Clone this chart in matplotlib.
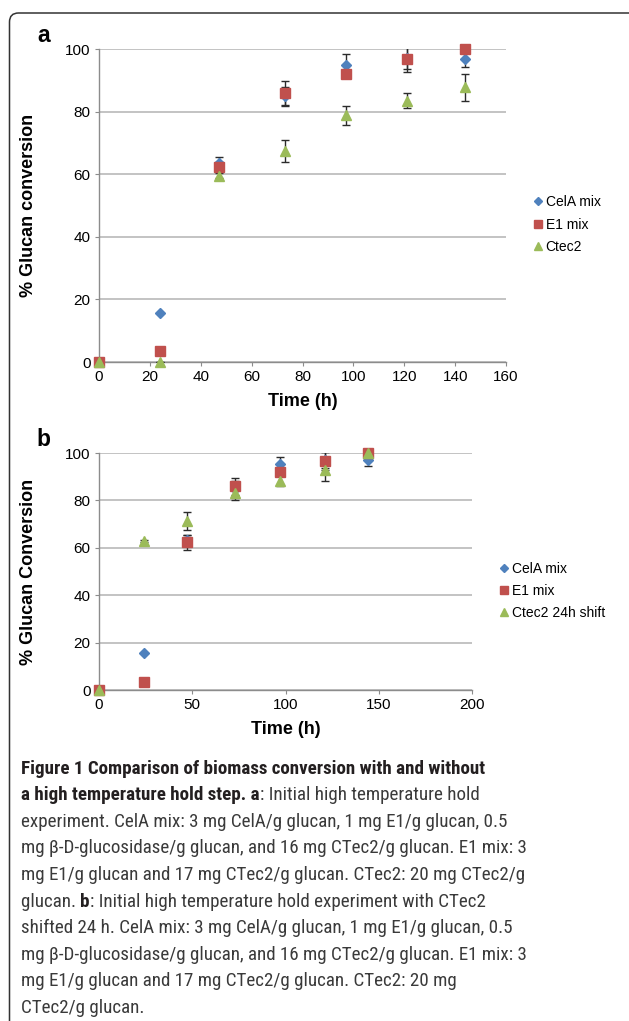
import matplotlib
matplotlib.use("Agg")
import matplotlib.pyplot as plt
from matplotlib.patches import FancyBboxPatch
from matplotlib.transforms import IdentityTransform

# ---------------- data ----------------
time_a = [0, 24, 47, 73, 97, 121, 144]
cela_a = [0, 15.7, 63.5, 85.0, 94.9, 97.0, 96.8]
cela_a_err = [0, 0, 2.0, 3.0, 3.5, 3.5, 2.5]
e1_a = [0, 3.6, 62.4, 85.8, 91.9, 96.7, 100.0]
e1_a_err = [0, 0, 1.5, 3.9, 1.0, 4.0, 0]
ctec2_a = [0, 0, 59.5, 67.5, 78.8, 83.5, 87.7]
ctec2_a_err = [0, 0, 0.8, 3.5, 3.0, 2.3, 4.4]

time_b = [0, 24, 47, 73, 97, 121, 144]
cela_b = [0, 15.7, 63.5, 85.0, 95.2, 97.0, 96.9]
cela_b_err = [0, 0, 2.0, 3.0, 3.1, 3.5, 2.5]
e1_b = [0, 3.5, 62.3, 85.9, 91.9, 96.6, 100.0]
e1_b_err = [0, 0, 3.3, 3.6, 1.0, 3.8, 0]
ctec2_b = [0, 63.0, 71.5, 83.3, 88.2, 92.7, 100.0]
ctec2_b_err = [0, 0.5, 3.8, 3.1, 2.0, 4.4, 0.5]

labels_a = ["CelA mix", "E1 mix", "Ctec2"]
labels_b = ["CelA mix", "E1 mix", "Ctec2 24h shift"]
yticks = [0, 20, 40, 60, 80, 100]
xticks_a = [0, 20, 40, 60, 80, 100, 120, 140, 160]
xticks_b = [0, 50, 100, 150, 200]

caption_lines = [
    [("Figure 1 Comparison of biomass conversion with and without", "bold")],
    [("a high temperature hold step. a", "bold"), (": Initial high temperature hold", "normal")],
    [("experiment. CelA mix: 3 mg CelA/g glucan, 1 mg E1/g glucan, 0.5", "normal")],
    [("mg \u03b2-D-glucosidase/g glucan, and 16 mg CTec2/g glucan. E1 mix: 3", "normal")],
    [("mg E1/g glucan and 17 mg CTec2/g glucan. CTec2: 20 mg CTec2/g", "normal")],
    [("glucan. ", "normal"), ("b", "bold"), (": Initial high temperature hold experiment with CTec2", "normal")],
    [("shifted 24 h. CelA mix: 3 mg CelA/g glucan, 1 mg E1/g glucan, 0.5", "normal")],
    [("mg \u03b2-D-glucosidase/g glucan, and 16 mg CTec2/g glucan. E1 mix: 3", "normal")],
    [("mg E1/g glucan and 17 mg CTec2/g glucan. CTec2: 20 mg", "normal")],
    [("CTec2/g glucan.", "normal")],
]

# ---------------- style ----------------
W, H = 629, 1021
plt.rcParams['font.family'] = ['Liberation Sans', 'DejaVu Sans']
BLUE, RED, GREEN = "#4F81BD", "#C0504D", "#9BBB59"
GRID = "#BEBEBE"
SPINE = "#8C8C8C"

fig = plt.figure(figsize=(W / 100, H / 100), dpi=100)


def add_ax(l, t, r, b):
    return fig.add_axes([l / W, 1 - b / H, (r - l) / W, (b - t) / H])


def style_axes(ax, xlim, xticks, ylabel, xlabel_y, ylabel_x):
    ax.set_xlim(*xlim)
    ax.set_ylim(0, 100)
    ax.set_xticks(xticks)
    ax.set_yticks(yticks)
    ax.grid(axis='y', color=GRID, linewidth=1.3)
    ax.set_axisbelow(True)
    for s in ['top', 'right']:
        ax.spines[s].set_visible(False)
    for s in ['left', 'bottom']:
        ax.spines[s].set_color(SPINE)
        ax.spines[s].set_linewidth(1.0)
    ax.tick_params(axis='both', direction='out', length=3, width=0.8,
                   color=SPINE, labelsize=11, pad=3, labelcolor='black')
    ax.set_xlabel("Time (h)", fontsize=13, fontweight='bold')
    ax.set_ylabel(ylabel, fontsize=13, fontweight='bold')
    ax.xaxis.set_label_coords(0.5, xlabel_y)
    ax.yaxis.set_label_coords(ylabel_x, 0.5)


def plot_series(ax, t, vals, errs, color, marker, ms, label):
    ax.errorbar(t, vals, yerr=errs, fmt='none', ecolor='#2b2b2b',
                elinewidth=1.0, capsize=2.6, capthick=1.0, zorder=3)
    h, = ax.plot(t, vals, linestyle='none', marker=marker, ms=ms,
                 color=color, markeredgecolor=color, label=label, zorder=4,
                 clip_on=False)
    return h


# ---------------- panel a ----------------
ax_a = add_ax(99, 49, 506, 362)
ha = [
    plot_series(ax_a, time_a, cela_a, cela_a_err, BLUE, 'D', 5.6, labels_a[0]),
    plot_series(ax_a, time_a, e1_a, e1_a_err, RED, 's', 6.8, labels_a[1]),
    plot_series(ax_a, time_a, ctec2_a, ctec2_a_err, GREEN, '^', 7.6, labels_a[2]),
]
style_axes(ax_a, (0, 160), xticks_a, "% Glucan conversion",
           (362 - 393) / 313, (37 - 99) / 407)
fig.legend(handles=ha, labels=labels_a, loc='upper left',
           bbox_to_anchor=(532.5 / W, 1 - 195 / H), frameon=False,
           fontsize=10, borderpad=0, borderaxespad=0, handlelength=0.8,
           handletextpad=0.15, labelspacing=0.62, numpoints=1, markerscale=0.8)

# ---------------- panel b ----------------
ax_b = add_ax(99, 453, 472, 690)
hb = [
    plot_series(ax_b, time_b, cela_b, cela_b_err, BLUE, 'D', 5.6, labels_b[0]),
    plot_series(ax_b, time_b, e1_b, e1_b_err, RED, 's', 6.8, labels_b[1]),
    plot_series(ax_b, time_b, ctec2_b, ctec2_b_err, GREEN, '^', 7.6, labels_b[2]),
]
style_axes(ax_b, (0, 200), xticks_b, "% Glucan Conversion",
           (690 - 721) / 237, (37 - 99) / 373)
fig.legend(handles=hb, labels=labels_b, loc='upper left',
           bbox_to_anchor=(498.5 / W, 1 - 562 / H), frameon=False,
           fontsize=10, borderpad=0, borderaxespad=0, handlelength=0.8,
           handletextpad=0.15, labelspacing=0.58, numpoints=1, markerscale=0.8)

# panel letters
fig.text(43.5 / W, 1 - 36 / H, "a", fontsize=16.5, fontweight='bold',
         ha='center', va='center')
fig.text(43.5 / W, 1 - 439 / H, "b", fontsize=16.5, fontweight='bold',
         ha='center', va='center')

# ---------------- border ----------------
border = FancyBboxPatch((9.5, -40), 645 - 9.5, (H - 13) + 40,
                        boxstyle="round,pad=0,rounding_size=9",
                        transform=IdentityTransform(), fill=False,
                        edgecolor='#333333', linewidth=1.1)
fig.patches.append(border)
border.set_figure(fig)

# ---------------- caption ----------------
CAP_FONT = ['Roboto Condensed', 'Roboto', 'DejaVu Sans']
renderer = fig.canvas.get_renderer()
probe = fig.text(0, 0, caption_lines[2][0][0], fontsize=10, family=CAP_FONT)
w_reg = probe.get_window_extent(renderer).width
probe.remove()
probe = fig.text(0, 0, caption_lines[0][0][0], fontsize=10, family=CAP_FONT,
                 fontweight='bold')
w_bold = probe.get_window_extent(renderer).width
probe.remove()
cap_size = 10 * 0.5 * (468.0 / w_reg + 479.0 / w_bold)

x0 = 21.0
base0 = 773.5
step = 26.6
for i, segs in enumerate(caption_lines):
    x = x0
    y = 1 - (base0 + i * step) / H
    for txt, wt in segs:
        t = fig.text(x / W, y, txt, fontsize=cap_size, fontweight=wt,
                     family=CAP_FONT, ha='left', va='baseline',
                     color='#231F20' if wt == 'bold' else '#3a3a3a')
        x += t.get_window_extent(renderer).width

fig.savefig("out.png", dpi=100)
